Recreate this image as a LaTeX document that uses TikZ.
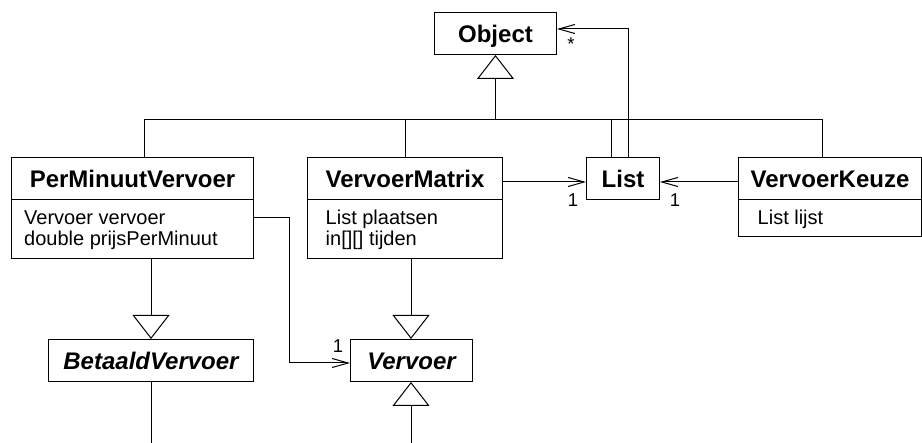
\documentclass[tikz,border=0pt]{standalone}
\usepackage{fontspec}
\newfontfamily\umlfont{Liberation Sans}
\usetikzlibrary{arrows.meta}
\tikzset{
  cls/.style={draw, line width=1pt, inner sep=0pt, anchor=north west, text height=17.2pt, text depth=0pt, font=\umlfont\bfseries\fontsize{24}{28}\selectfont},
  abscls/.style={cls, font=\umlfont\bfseries\itshape\fontsize{24}{28}\selectfont},
  attrbox/.style={draw, line width=1pt, inner sep=0pt, anchor=north west},
  attr/.style={inner sep=0pt, anchor=base west, font=\umlfont\fontsize{20}{24}\selectfont},
  mult/.style={inner sep=0pt, font=\umlfont\fontsize{18.5}{22}\selectfont},
  gen/.style={line width=1pt, -{Triangle[open, length=24pt, width=37pt]}},
  assoc/.style={line width=1pt, -{Straight Barb[length=16pt, width=9pt]}},
  plain/.style={line width=1pt},
}
\begin{document}
\begin{tikzpicture}[x=1pt, y=-1pt]
\useasboundingbox (0,0) rectangle (922,443);
% classes
\node[cls, minimum width=122pt, minimum height=42pt] (obj) at (434,12) {Object};
\node[cls, minimum width=242pt, minimum height=42pt] (pmv) at (11,157) {PerMinuutVervoer};
\node[attrbox, minimum width=242pt, minimum height=59pt] (pmvb) at (11,199) {};
\node[cls, minimum width=195pt, minimum height=42pt] (vm) at (307,157) {VervoerMatrix};
\node[attrbox, minimum width=195pt, minimum height=59pt] (vmb) at (307,199) {};
\node[cls, minimum width=73pt, minimum height=42pt] (lst) at (586,157) {List};
\node[cls, minimum width=183pt, minimum height=42pt] (vk) at (738,157) {VervoerKeuze};
\node[attrbox, minimum width=183pt, minimum height=37pt] (vkb) at (738,199) {};
\node[abscls, minimum width=205pt, minimum height=42pt] (bv) at (48,339) {BetaaldVervoer};
\node[abscls, minimum width=122pt, minimum height=42pt] (vv) at (350,339) {Vervoer};
% attributes
\node[attr] (pmva1) at (24,225) {Vervoer vervoer};
\node[attr] (pmva2) at (24,246) {double prijsPerMinuut};
\node[attr] (vma1) at (325.5,225) {List plaatsen};
\node[attr] (vma2) at (325.5,246) {in[][] tijden};
\node[attr] (vka1) at (757.5,225) {List lijst};
% generalization tree to Object
\coordinate (bus) at (495,120);
\coordinate (busL) at (144,120);
\coordinate (busR) at (822,120);
\coordinate (vmup) at (405,120);
\coordinate (lsup) at (611,120);
\draw[gen] (obj.south |- bus) -- (obj.south);
\draw[plain] (busL |- pmv.north) -- (busL) -- (busR) -- (busR |- vk.north);
\draw[plain] (vmup) -- (vmup |- vm.north);
\draw[plain] (lsup) -- (lsup |- lst.north);
% List -> Object association
\coordinate (lsa) at (628,29);
\draw[assoc] (lsa |- lst.north) -- (lsa) -- (lsa -| obj.east);
\node[mult] (mstar) at (571,44) {*};
% associations to List
\coordinate (ay) at (0,182);
\draw[assoc] (vm.east |- ay) -- (lst.west |- ay);
\draw[assoc] (vk.west |- ay) -- (lst.east |- ay);
\node[mult] (m1) at (573,200) {1};
\node[mult] (m2) at (675,200) {1};
% PerMinuutVervoer -> Vervoer
\coordinate (pv1) at (289,218);
\coordinate (pv2) at (289,363);
\draw[assoc] (pmvb.east |- pv1) -- (pv1) -- (pv2) -- (vv.west |- pv2);
\node[mult] (m3) at (338,346) {1};
% generalizations lower
\coordinate (g1) at (151,0);
\coordinate (g2) at (411,0);
\draw[gen] (g1 |- pmvb.south) -- (g1 |- bv.north);
\draw[gen] (g2 |- vmb.south) -- (g2 |- vv.north);
\coordinate (bvend) at (151,443);
\coordinate (vvend) at (411,443);
\draw[plain] (bvend |- bv.south) -- (bvend);
\draw[gen] (vvend) -- (vvend |- vv.south);
\end{tikzpicture}
\end{document}
